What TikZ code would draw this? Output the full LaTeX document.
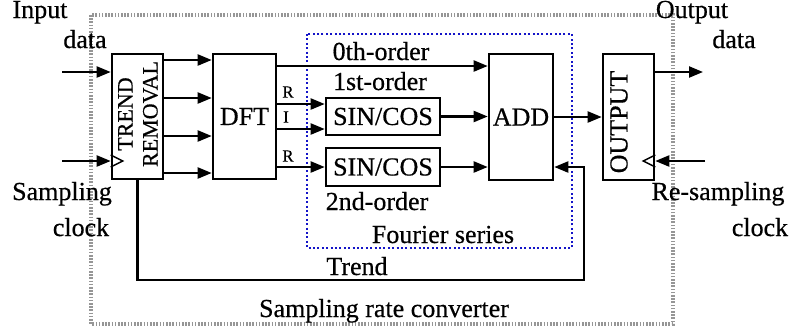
\documentclass[tikz,border=0pt]{standalone}
\usepackage{fontspec}
\setmainfont{Liberation Serif}[FakeBold=0.5]
\usepackage{tikz}
\usetikzlibrary{arrows.meta,positioning,calc}
\definecolor{frameGrey}{RGB}{150,150,150}
\definecolor{fsBlue}{RGB}{20,20,200}
\tikzset{
  blk/.style={draw=black, line width=1.3pt, inner sep=0pt, align=center,
              font=\fontsize{13}{15}\selectfont},
  ar/.style={-{Triangle[length=7pt, width=5.5pt]}, draw=black, line width=1.1pt},
  lbl/.style={anchor=base, font=\fontsize{13}{15}\selectfont, inner sep=0pt},
  sml/.style={font=\fontsize{8.5}{10}\selectfont, inner sep=0pt},
  clk/.style={draw=black, line width=0.7pt},
}

\begin{document}
\begin{tikzpicture}[x=0.5pt, y=-0.5pt]
\useasboundingbox (0,0) rectangle (789,328);

% frames
\draw[frameGrey, dash pattern=on 0.8pt off 0.8pt, line width=1.6pt] (91,15) rectangle (673,324);
\draw[fsBlue, dash pattern=on 1pt off 1.2pt, line width=1.2pt] (307,34) rectangle (572,248);

% blocks
\node[blk, minimum width=25.5pt, minimum height=62.5pt] (trend) at (137.5,116.5) {};
\node[blk, minimum width=31.5pt, minimum height=62.5pt] (dft) at (244.5,116.5) {DFT};
\node[blk, minimum width=57pt, minimum height=18.5pt] (sc1) at (383,116.5) {SIN/COS};
\node[blk, minimum width=57pt, minimum height=19pt] (sc2) at (383,167) {SIN/COS};
\node[blk, minimum width=32pt, minimum height=63pt] (add) at (521,117) {ADD};
\node[blk, minimum width=25.5pt, minimum height=63pt] (out) at (628.5,117) {};
\node[rotate=90, align=center, inner sep=0pt, font=\fontsize{11}{12.5}\selectfont]
  (trendtxt) at (138,114) {TREND\\REMOVAL};
\node[rotate=90, inner sep=0pt, font=\fontsize{13}{15}\selectfont]
  (outtxt) at (619,122) {OUTPUT};

% clock marks
\draw[clk] (trend.west |- 0,155) -- ++(12,6) -- (trend.west |- 0,167);
\draw[clk] (out.east |- 0,155) -- ++(-12,6) -- (out.east |- 0,167);

% inputs and outputs
\draw[ar] (62,72) coordinate (din) -- (din -| trend.west);
\draw[ar] (62,161) coordinate (cin) -- (cin -| trend.west);
\draw[ar] (out.east |- 0,72) -- (703,72) coordinate (dout);
\draw[ar] (705,161) coordinate (cout) -- (cout -| out.east);

% trend removal -> DFT
\foreach \yy in {60,98,136,173}
  \draw[ar] (trend.east |- 0,\yy) -- (dft.west |- 0,\yy);

% DFT -> Fourier series
\draw[ar] (dft.east |- 0,66) -- (add.west |- 0,66);
\draw[ar] (dft.east |- 0,104) -- (sc1.west |- 0,104);
\draw[ar] (dft.east |- 0,129) -- (sc1.west |- 0,129);
\draw[ar] (dft.east |- 0,167) -- (sc2.west);
\node[sml] (lr1) at (288,92) {R};
\node[sml] (li1) at (286,117) {I};
\node[sml] (lr2) at (288,156) {R};

% sum and output
\draw[ar] (sc1.east) -- (sc1.east -| add.west);
\draw[ar] (sc2.east) -- (sc2.east -| add.west);
\draw[ar] (add.east) -- (add.east -| out.west);

% trend path
\draw[ar] (trend.south) |- (584,280) coordinate (tr) |- (add.east |- 0,167);

% labels
\node[lbl] (lin) at (40,18) {Input};
\node[lbl] (lind) at (85,48) {data};
\node[lbl] (lsc) at (62,200) {Sampling};
\node[lbl] (lscc) at (81,236) {clock};
\node[lbl] (lout) at (692,18) {Output};
\node[lbl] (loutd) at (734,48) {data};
\node[lbl] (lrs) at (718,200) {Re-sampling};
\node[lbl] (lrsc) at (760,236) {clock};
\node[lbl] (l0) at (381,60) {0th-order};
\node[lbl] (l1) at (380,90) {1st-order};
\node[lbl] (l2) at (377,210) {2nd-order};
\node[lbl] (lfs) at (443,243) {Fourier series};
\node[lbl] (ltr) at (357,275) {Trend};
\node[lbl] (lsrc) at (384,317) {Sampling rate converter};
\end{tikzpicture}
\end{document}
